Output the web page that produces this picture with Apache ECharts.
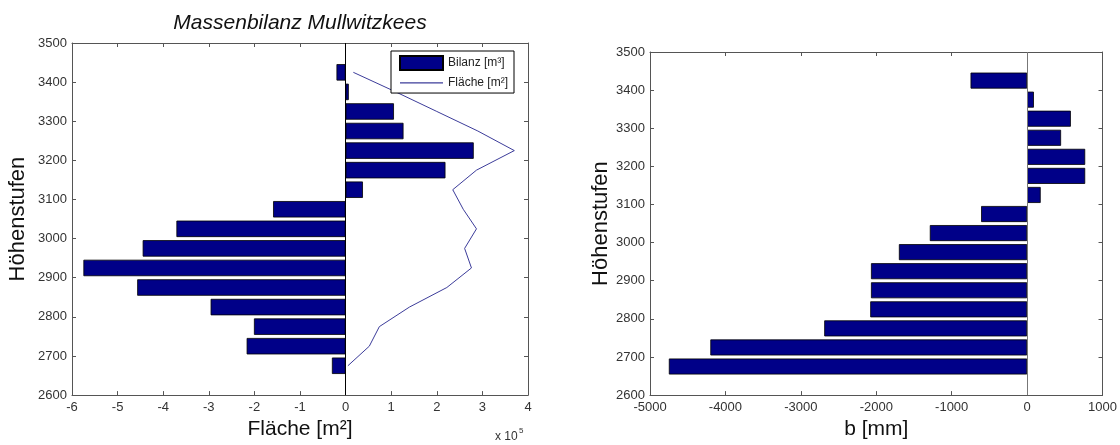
<!DOCTYPE html>
<html>
<head>
<meta charset="utf-8">
<script src="https://cdn.jsdelivr.net/npm/echarts@6/dist/echarts.min.js"></script>
<style>
html,body{margin:0;padding:0;background:#fff;}
#chart{width:1120px;height:445px;}
</style>
</head>
<body>
<div id="chart"></div>
<script>
// Elevation band centres (m), top to bottom
const elevations = [3425, 3375, 3325, 3275, 3225, 3175, 3125, 3075, 3025, 2975, 2925, 2875, 2825, 2775, 2725, 2675];
// Massenbilanz per band (x 10^5 m³)
const bilanz = [-0.2, 0.07, 1.06, 1.27, 2.81, 2.19, 0.38, -1.59, -3.71, -4.45, -5.75, -4.57, -2.96, -2.01, -2.17, -0.3];
// Fläche per band (x 10^5 m²)
const flaeche = [0.17, 1.1, 2.0, 2.9, 3.7, 2.87, 2.35, 2.58, 2.87, 2.61, 2.76, 2.22, 1.4, 0.74, 0.52, 0.05];
// spezifische Bilanz b (mm)
const bMm = [-750, 90, 580, 450, 770, 770, 180, -610, -1290, -1700, -2070, -2070, -2080, -2690, -4200, -4750];
// 50 m bands spanning the axis 2600–3500 (bottom to top)
const bands = ['2625', '2675', '2725', '2775', '2825', '2875', '2925', '2975', '3025', '3075', '3125', '3175', '3225', '3275', '3325', '3375', '3425', '3475'];
// axis ranges / tick steps
const yRange = [2600, 3500, 100];
const xRangeLeft = [-6, 4, 1];
const xRangeRight = [-5000, 1000, 1000];

const FONT = 'Liberation Sans, Arial, Helvetica, sans-serif';
const FRAME = '#555';
const LABEL = '#333';
const BAR = '#000088';
const LINE = '#3c3c9a';
const plain = v => String(v);

function bandData(values) {
  return bands.map(b => {
    const i = elevations.indexOf(Number(b));
    return i < 0 ? '-' : values[i];
  });
}

function xAxes(grid, range, showLabels) {
  const base = {
    type: 'value', gridIndex: grid, min: range[0], max: range[1], interval: range[2],
    axisLine: { show: true, onZero: false, lineStyle: { color: FRAME, width: 1 } },
    axisTick: { show: true, inside: true, length: 4, lineStyle: { color: FRAME } },
    splitLine: { show: false }
  };
  return [
    Object.assign({}, base, {
      position: 'bottom',
      axisLabel: { show: showLabels, color: LABEL, fontSize: 13, fontFamily: FONT, margin: 6, formatter: plain }
    }),
    Object.assign({}, base, { position: 'top', axisLabel: { show: false } })
  ];
}

function yAxes(grid, nameGap) {
  const base = {
    type: 'value', gridIndex: grid, min: yRange[0], max: yRange[1], interval: yRange[2],
    axisLine: { show: true, onZero: false, lineStyle: { color: FRAME, width: 1 } },
    axisTick: { show: true, inside: true, length: 4, lineStyle: { color: FRAME } },
    splitLine: { show: false }
  };
  return [
    { type: 'category', gridIndex: grid, data: bands, show: false, position: 'left', boundaryGap: true },
    Object.assign({}, base, {
      position: 'left',
      name: 'Höhenstufen', nameLocation: 'middle', nameGap: nameGap,
      nameTextStyle: { fontSize: 22, fontFamily: FONT, color: '#111' },
      axisLabel: { color: LABEL, fontSize: 13, fontFamily: FONT, margin: 5, formatter: plain }
    }),
    Object.assign({}, base, { position: 'right', axisLabel: { show: false } })
  ];
}

const xa = xAxes(0, xRangeLeft, true).concat(xAxes(1, xRangeRight, true));
xa[0].name = 'Fläche [m²]';
xa[0].nameLocation = 'middle';
xa[0].nameGap = 22;
xa[0].nameTextStyle = { fontSize: 21, fontFamily: FONT, color: '#111' };
xa[2].name = 'b [mm]';
xa[2].nameLocation = 'middle';
xa[2].nameGap = 22;
xa[2].nameTextStyle = { fontSize: 21, fontFamily: FONT, color: '#111' };

const ya = yAxes(0, 43).concat(yAxes(1, 38));

const zeroLine = {
  silent: true, symbol: ['none', 'none'],
  label: { show: false },
  data: [{ xAxis: 0 }]
};

const option = {
  animation: false,
  backgroundColor: '#fff',
  grid: [
    { left: 72, right: 592, top: 43, bottom: 44 },
    { left: 650, right: 17, top: 52, bottom: 44 }
  ],
  xAxis: xa,
  yAxis: ya,
  legend: {
    orient: 'vertical', left: 391, top: 51,
    backgroundColor: '#fff', borderColor: '#000', borderWidth: 1, borderRadius: 0,
    padding: [4, 6, 4, 8], itemWidth: 43, itemHeight: 14, itemGap: 6,
    textStyle: { fontSize: 12, fontFamily: FONT, color: '#222' },
    data: [
      { name: 'Bilanz [m³]', icon: 'rect' },
      { name: 'Fläche [m²]', icon: 'path://M0,0 M0,12 L100,12 L100,15 L0,15 Z M100,28', itemStyle: { color: LINE } }
    ]
  },
  graphic: [
    {
      type: 'text', x: 300, y: 23,
      style: {
        text: 'Massenbilanz Mullwitzkees',
        align: 'center', verticalAlign: 'middle',
        font: 'italic 21px ' + FONT, fill: '#111'
      }
    },
    {
      type: 'text', x: 495, y: 443,
      style: { text: 'x 10', align: 'left', verticalAlign: 'bottom', font: '12px ' + FONT, fill: '#333' }
    },
    {
      type: 'text', x: 519, y: 435,
      style: { text: '5', align: 'left', verticalAlign: 'bottom', font: '8px ' + FONT, fill: '#333' }
    }
  ],
  series: [
    {
      name: 'Bilanz [m³]', type: 'bar', xAxisIndex: 0, yAxisIndex: 0,
      data: bandData(bilanz), barCategoryGap: '16%',
      itemStyle: { color: BAR, borderColor: '#000', borderWidth: 0.8 },
      markLine: Object.assign({}, zeroLine, { lineStyle: { color: '#000', width: 1, type: 'solid' } }),
      z: 2
    },
    {
      name: 'Fläche [m²]', type: 'line', xAxisIndex: 0, yAxisIndex: 1,
      data: elevations.map((e, i) => [flaeche[i], e]),
      symbol: 'none', showSymbol: false,
      lineStyle: { color: LINE, width: 1 },
      itemStyle: { color: LINE },
      z: 3
    },
    {
      name: 'b [mm]', type: 'bar', xAxisIndex: 2, yAxisIndex: 3,
      data: bandData(bMm), barCategoryGap: '16%',
      itemStyle: { color: BAR, borderColor: '#000', borderWidth: 0.8 },
      markLine: Object.assign({}, zeroLine, { lineStyle: { color: '#777', width: 1, type: 'solid' } }),
      z: 2
    }
  ]
};

const chart = echarts.init(document.getElementById('chart'), null, { renderer: 'canvas' });
chart.setOption(option);
</script>
</body>
</html>
